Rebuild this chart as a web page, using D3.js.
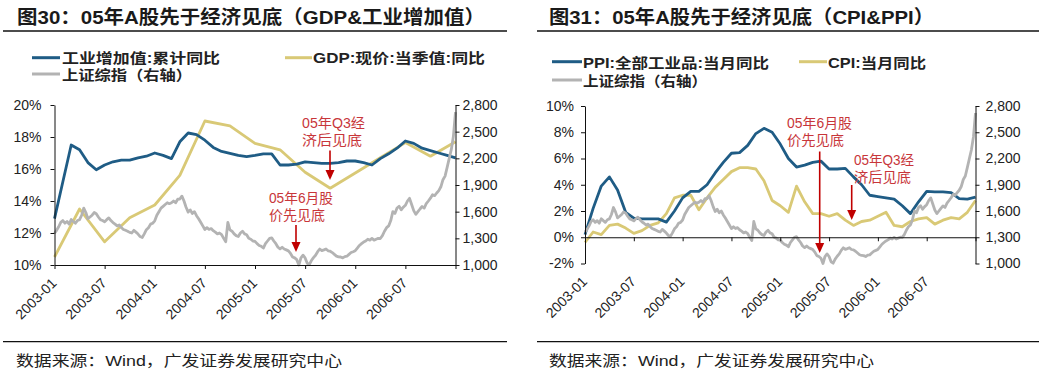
<!DOCTYPE html>
<html><head><meta charset="utf-8">
<script src="https://cdn.jsdelivr.net/npm/d3@7"></script>
<style>
body{margin:0;background:#fff;}
svg{display:block;}
text{font-family:"Liberation Sans","Noto Sans CJK SC",sans-serif;}
</style></head><body>
<svg id="c" width="1048" height="378"></svg>
<script>
// ---------- data ----------
const tickLabels = ["2003-01","2003-07","2004-01","2004-07","2005-01","2005-07","2006-01","2006-07"];
const tickMonths = [0,6,12,18,24,30,36,42];
// monthly series, index 0 = first category (axis start) ... 48
const iva = [12.9,15.2,17.5,17.2,16.4,15.95,16.25,16.45,16.55,16.55,16.7,16.8,17.0,16.85,16.65,17.7,18.25,18.15,17.8,17.35,17.1,16.98,16.85,16.77,16.85,16.95,16.95,16.25,16.25,16.3,16.45,16.4,16.35,16.35,16.4,16.5,16.5,16.4,16.25,16.65,16.95,17.3,17.75,17.6,17.3,17.15,17.0,16.85,16.7];
// quarterly GDP, every 3 months from index 0
const gdp = [10.5,13.5,11.45,12.95,13.75,15.6,19.0,18.7,17.6,17.2,15.8,14.8,15.75,16.7,17.65,16.8,17.7];
const ppi = [0.2,2.2,3.9,4.6,3.6,1.9,1.45,1.4,1.4,1.4,1.15,2.0,3.0,3.5,3.5,4.0,4.9,5.7,6.4,6.45,7.0,7.9,8.3,8.0,7.1,6.0,5.35,5.5,5.7,5.8,5.2,5.2,5.25,4.6,4.0,3.2,3.1,3.0,2.9,2.4,1.8,2.7,3.5,3.45,3.45,3.4,2.95,2.9,3.05];
const cpi = [-0.4,0.4,0.2,0.9,1.0,0.7,0.3,0.5,0.9,1.1,1.8,3.0,3.2,3.2,2.1,3.0,3.8,4.4,5.0,5.3,5.3,5.2,4.3,2.8,2.4,1.9,3.9,2.7,1.8,1.8,1.6,1.8,1.3,0.9,1.2,1.3,1.6,1.9,0.9,0.8,1.2,1.4,1.5,1.0,1.3,1.5,1.4,1.9,2.8];
// Shanghai Composite, weekly (4 per month) starting at index 0
const sse = [1357,
 1390,1430,1480,1500, 1470,1490,1460,1511, 1490,1470,1500,1510, 1560,1640,1590,1521,
 1540,1560,1590,1576, 1540,1510,1500,1487, 1510,1530,1500,1477, 1460,1440,1450,1421,
 1400,1390,1380,1367, 1360,1390,1370,1348, 1320,1310,1350,1397, 1420,1460,1470,1497,
 1560,1600,1640,1660, 1680,1700,1690,1700, 1720,1700,1740,1742, 1775,1720,1650,1595,
 1620,1580,1600,1555, 1520,1480,1440,1399, 1420,1400,1410,1386, 1370,1350,1360,1342,
 1300,1262,1480,1396, 1380,1350,1330,1320, 1360,1380,1350,1340, 1300,1290,1270,1266,
 1240,1220,1210,1191, 1240,1270,1300,1306, 1270,1240,1200,1181, 1200,1180,1170,1159,
 1130,1090,1080,1060, 1000,1080,1110,1080, 1020,1004,1050,1083, 1110,1150,1180,1162,
 1170,1180,1160,1155, 1140,1120,1100,1092, 1090,1080,1095,1099, 1120,1140,1150,1161,
 1190,1220,1240,1258, 1270,1290,1280,1299, 1280,1290,1300,1298, 1330,1380,1420,1440,
 1500,1600,1580,1641, 1660,1620,1650,1672, 1720,1750,1680,1612, 1570,1600,1630,1658,
 1640,1690,1720,1752, 1790,1780,1810,1837, 1880,1960,2000,2099, 2200,2300,2450,2720];
const leftPctTicks = [10,12,14,16,18,20];
const rightPctTicks = [-2,0,2,4,6,8,10];
const sseTicks = [1000,1300,1600,1900,2200,2500,2800];

const C = {blue:"#1f5c85", yellow:"#d9c976", gray:"#b3b3b3", red:"#c8363a", arrow:"#c00000"};
const svg = d3.select("#c");

function txt(x,y,s,opts){
  const t = svg.append("text").attr("x",x).attr("y",y).text(s)
    .attr("font-size",opts.size||14).attr("fill",opts.fill||"#222")
    .attr("font-weight",opts.weight||"normal");
  if(opts.len){t.attr("textLength",opts.len).attr("lengthAdjust","spacingAndGlyphs");}
  if(opts.anchor) t.attr("text-anchor",opts.anchor);
  return t;
}
function hline(x1,x2,y,w,col){svg.append("line").attr("x1",x1).attr("x2",x2).attr("y1",y).attr("y2",y).attr("stroke",col||"#111").attr("stroke-width",w||1);}

function arrow(x,y1,y2){
  svg.append("line").attr("x1",x).attr("x2",x).attr("y1",y1).attr("y2",y2-9)
    .attr("stroke",C.arrow).attr("stroke-width",1.6);
  svg.append("path").attr("d",`M${x-4.5},${y2-10}L${x+4.5},${y2-10}L${x},${y2}Z`).attr("fill",C.arrow);
}

function panel(cfg){
  const x = d3.scaleLinear().domain([0,48]).range([cfg.x0,cfg.x1]);
  const y = d3.scaleLinear().domain(cfg.pctDomain).range([cfg.yB,cfg.yT]);
  const y2 = d3.scaleLinear().domain([1000,2800]).range([cfg.yB,cfg.yT]);
  const g = svg.append("g");

  const line = d3.line().x(d=>x(d[0])).y(d=>y(d[1]));
  cfg.series.forEach(s=>{
    g.append("path").datum(s.data).attr("d",line).attr("fill","none")
     .attr("stroke",s.color).attr("stroke-width",2.8).attr("stroke-linejoin","round");
  });
  const sseLine = d3.line().x((d,i)=>x(i/4)).y(d=>y2(d));
  g.append("path").datum(sse).attr("d",sseLine).attr("fill","none")
   .attr("stroke",C.gray).attr("stroke-width",2.8).attr("stroke-linejoin","round");

  const ax = svg.append("g").attr("font-family","Liberation Sans, Arial, sans-serif");
  const la = ax.append("g").attr("transform",`translate(${cfg.x0},0)`)
    .call(d3.axisLeft(y).tickValues(cfg.pctTicks).tickFormat(d=>d+"%").tickSize(4).tickSizeOuter(0).tickPadding(cfg.lpad));
  const ra = ax.append("g").attr("transform",`translate(${cfg.x1},0)`)
    .call(d3.axisRight(y2).tickValues(sseTicks).tickFormat(d3.format(",")).tickSize(4).tickSizeOuter(0).tickPadding(cfg.rpad));
  const xa = ax.append("g").attr("transform",`translate(0,${cfg.xAxisY})`)
    .call(d3.axisBottom(x).tickValues(tickMonths.concat([48])).tickFormat("").tickSize(4).tickSizeOuter(0));
  [la,ra,xa].forEach(a=>{
    a.selectAll("text").attr("font-size",14).attr("fill","#222");
    a.selectAll("line,path").attr("stroke","#111");
  });
  tickMonths.forEach((m,i)=>{
    svg.append("text").attr("transform",`translate(${x(m)+3},${cfg.yB+19}) rotate(-45)`)
      .attr("text-anchor","end").attr("font-size",14).attr("fill","#222")
      .attr("font-family","Liberation Sans, Arial, sans-serif").text(tickLabels[i]);
  });
  return {x,y,y2};
}

// ---------- left panel ----------
txt(17,24,"图30：05年A股先于经济见底（GDP&工业增加值）",{size:19,weight:"bold",len:468,fill:"#1a1a1a"});
hline(3,507,31,1.5);
hline(32,60,57.7,3,C.blue); txt(62,63,"工业增加值:累计同比",{size:14,weight:"bold",len:158});
hline(285,312,57.7,3,C.yellow); txt(313,63,"GDP:现价:当季值:同比",{size:14,weight:"bold",len:172});
hline(32,60,74,3,C.gray); txt(62,79.5,"上证综指（右轴）",{size:14,weight:"bold",len:130});

panel({x0:54.5,x1:455.5,yT:105,yB:265,pctDomain:[10,20],pctTicks:leftPctTicks,lpad:9,rpad:3,xAxisY:265,
  series:[
    {data:gdp.map((v,i)=>[i*3,v]),color:C.yellow},
    {data:iva.map((v,i)=>[i,v]),color:C.blue}
  ]});
txt(302,127.5,"05年Q3经",{size:14,fill:C.red,len:63});
txt(302,144.5,"济后见底",{size:14,fill:C.red,len:60});
arrow(330,150.5,180);
txt(269,202.5,"05年6月股",{size:14,fill:C.red,len:64});
txt(269,219.5,"价先见底",{size:14,fill:C.red,len:56});
arrow(296,225,252);
hline(3,507,341.7,1.2);
txt(16,366,"数据来源：Wind，广发证券发展研究中心",{size:15,len:326,fill:"#222"});

// ---------- right panel ----------
txt(549,24,"图31：05年A股先于经济见底（CPI&PPI）",{size:19,weight:"bold",len:385,fill:"#1a1a1a"});
hline(537,1039,31,1.5);
hline(552,582,61.7,3,C.blue); txt(583,67.5,"PPI:全部工业品:当月同比",{size:14,weight:"bold",len:186});
hline(799,827,61.7,3,C.yellow); txt(828,67.5,"CPI:当月同比",{size:14,weight:"bold",len:98});
hline(552,582,80,3,C.gray); txt(583,85.5,"上证综指（右轴）",{size:14,weight:"bold",len:124});

const rp = {x0:585,x1:975.5,yT:106,yB:263.5,pctDomain:[-2,10],pctTicks:rightPctTicks,lpad:7,rpad:6};
rp.xAxisY = d3.scaleLinear().domain([-2,10]).range([263.5,106])(0);
rp.series = [
  {data:cpi.map((v,i)=>[i,v]),color:C.yellow},
  {data:ppi.map((v,i)=>[i,v]),color:C.blue}
];
panel(rp);
txt(787,127.5,"05年6月股",{size:14,fill:C.red,len:65});
txt(787,144.5,"价先见底",{size:14,fill:C.red,len:57});
arrow(819.7,151.5,253);
txt(854,165,"05年Q3经",{size:14,fill:C.red,len:60});
txt(854,181.5,"济后见底",{size:14,fill:C.red,len:57});
arrow(851.7,185,220);
hline(537,1039,341.7,1.2);
txt(549,366,"数据来源：Wind，广发证券发展研究中心",{size:15,len:325,fill:"#222"});
</script></body></html>
